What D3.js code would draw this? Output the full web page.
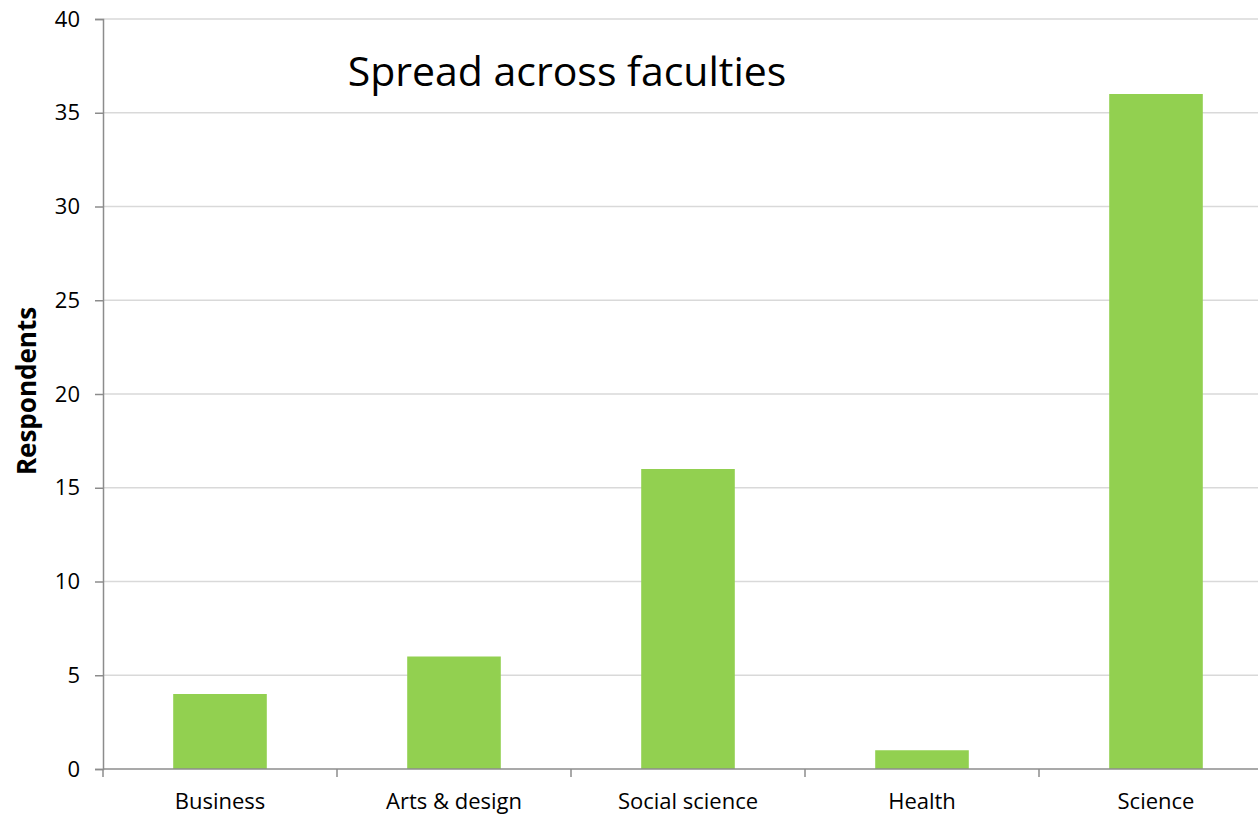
<!DOCTYPE html>
<html>
<head>
<meta charset="utf-8">
<script src="https://cdn.jsdelivr.net/npm/d3@7"></script>
<style>
  body { margin: 0; background: #fff; }
  text { font-family: "Open Sans", "Noto Sans", sans-serif; fill: #000; }
</style>
</head>
<body>
<div id="chart-area"></div>
<script>
var categories = ["Business", "Arts & design", "Social science", "Health", "Science"];
var respondents = [4, 6, 16, 1, 36];
var yTicks = [0, 5, 10, 15, 20, 25, 30, 35, 40];

var margin = { left: 103, right: -15, top: 19, bottom: 50 };
var totalW = 1258, totalH = 819;
var width = totalW - margin.left - margin.right,
    height = totalH - margin.top - margin.bottom;

var svg = d3.select("#chart-area")
    .append("svg")
        .attr("width", totalW)
        .attr("height", totalH);

var g = svg.append("g")
    .attr("transform", "translate(" + margin.left + "," + margin.top + ")");

// Scales
var x = d3.scaleBand()
    .domain(categories)
    .range([0, width])
    .paddingInner(0.6)
    .paddingOuter(0.3);

var y = d3.scaleLinear()
    .domain([0, 40])
    .range([height, 0]);

// gridlines
g.selectAll(".grid")
    .data(yTicks.filter(function(d){ return d > 0; }))
    .enter().append("line")
        .attr("class", "grid")
        .attr("x1", 0)
        .attr("x2", width)
        .attr("y1", function(d){ return y(d); })
        .attr("y2", function(d){ return y(d); })
        .attr("stroke", "#d9d9d9")
        .attr("stroke-width", 1.5);

// Bars
g.selectAll("rect")
    .data(respondents)
    .enter().append("rect")
        .attr("x", function(d, i){ return x(categories[i]); })
        .attr("y", function(d){ return y(d); })
        .attr("width", x.bandwidth())
        .attr("height", function(d){ return height - y(d); })
        .attr("fill", "#92d050");

// Y Axis
var yAxisCall = d3.axisLeft(y)
    .tickValues(yTicks)
    .tickSize(8)
    .tickPadding(15);

var yAxis = g.append("g")
    .attr("class", "y axis")
    .call(yAxisCall);
yAxis.select(".domain").attr("stroke", "#8c8c8c").attr("stroke-width", 1.5);
yAxis.selectAll(".tick line").attr("stroke", "#8c8c8c").attr("stroke-width", 1.5);
yAxis.selectAll(".tick text")
    .attr("font-size", "22px")
    .attr("font-family", "Open Sans, sans-serif")
    .attr("fill", "#000");

// X Axis (category boundaries as ticks)
var boundaries = categories.map(function(c){ return x(c) - x.step() * x.paddingOuter(); });

var xAxis = g.append("g")
    .attr("class", "x axis")
    .attr("transform", "translate(0," + height + ")");

xAxis.append("line")
    .attr("x1", 0)
    .attr("x2", width)
    .attr("stroke", "#8c8c8c")
    .attr("stroke-width", 1.5);

xAxis.selectAll(".xtick")
    .data(boundaries)
    .enter().append("line")
        .attr("class", "xtick")
        .attr("x1", function(d){ return d; })
        .attr("x2", function(d){ return d; })
        .attr("y1", 0)
        .attr("y2", 8)
        .attr("stroke", "#8c8c8c")
        .attr("stroke-width", 1.5);

xAxis.selectAll(".xlabel")
    .data(categories)
    .enter().append("text")
        .attr("class", "xlabel")
        .attr("x", function(d){ return x(d) + x.bandwidth() / 2; })
        .attr("y", 40)
        .attr("text-anchor", "middle")
        .attr("font-size", "22px")
        .text(function(d){ return d; });

// Labels
svg.append("text")
    .attr("transform", "rotate(-90)")
    .attr("x", -391)
    .attr("y", 36)
    .attr("text-anchor", "middle")
    .attr("font-size", "26px")
    .attr("font-weight", "bold")
    .text("Respondents");

svg.append("text")
    .attr("x", 567)
    .attr("y", 86)
    .attr("text-anchor", "middle")
    .attr("font-size", "41px")
    .text("Spread across faculties");
</script>
</body>
</html>
